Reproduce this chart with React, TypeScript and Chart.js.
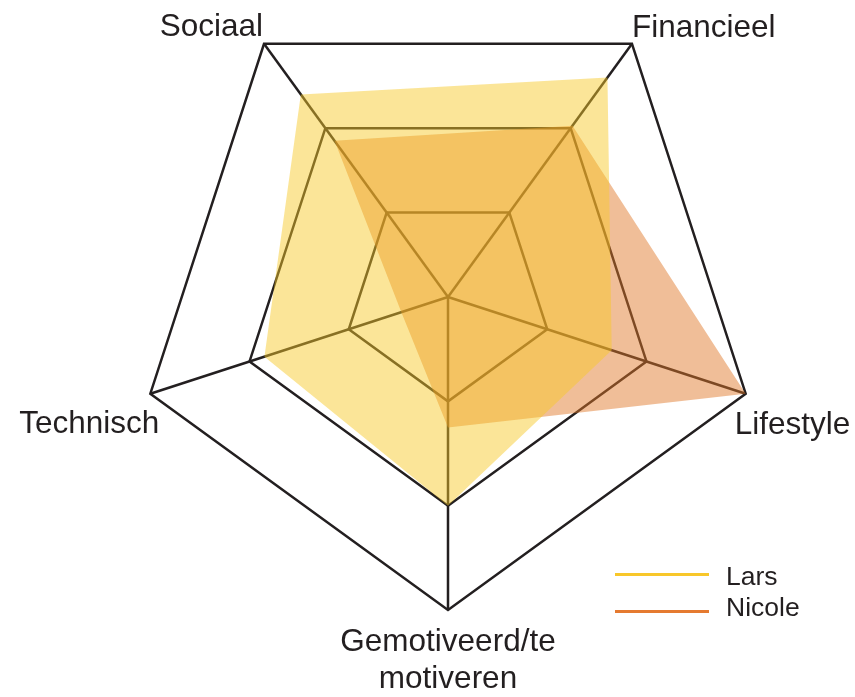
import React, { useEffect, useRef } from 'react';
import { Chart, registerables } from 'chart.js';

Chart.register(...registerables);

// ---- data ----
const categories: (string | string[])[] = [
  'Financieel',
  'Lifestyle',
  ['Gemotiveerd/te', 'motiveren'],
  'Technisch',
  'Sociaal',
];
const seriesNames = ['Lars', 'Nicole'];
const larsValues = [2.6, 1.65, 2.0, 1.85, 2.4];
const nicoleValues = [2.03, 3, 1.25, 0.47, 1.85];
const scaleMin = 0;
const scaleMax = 3;
const scaleStep = 1;

// ---- styles / layout ----
const FONT = "'Liberation Sans', Arial, Helvetica, sans-serif";
const TEXT_COLOR = '#231f20';
const GRID_COLOR = '#231f20';
const FILLS = ['rgba(247,200,40,0.48)', 'rgba(224,120,40,0.48)'];
const LEGEND_COLORS = ['#f8c72a', '#e57a30'];
const CENTER_X = 448;
const CENTER_Y = 297;
const RADIUS = 313;
// small label nudges [dx, dy] per category, px
const LABEL_NUDGE: [number, number][] = [
  [0, 3],
  [-11, 12.5],
  [0, 13],
  [9, 11.5],
  [-1, 2.5],
];

export default function App() {
  const canvasRef = useRef<HTMLCanvasElement | null>(null);

  useEffect(() => {
    document.body.style.margin = '0';
    const canvas = canvasRef.current;
    if (!canvas) return;
    const chart = new Chart(canvas, {
      type: 'radar',
      data: {
        labels: categories as any,
        datasets: [
          {
            label: seriesNames[0],
            data: larsValues,
            backgroundColor: FILLS[0],
            borderWidth: 0,
            pointRadius: 0,
            fill: true,
          },
          {
            label: seriesNames[1],
            data: nicoleValues,
            backgroundColor: FILLS[1],
            borderWidth: 0,
            pointRadius: 0,
            fill: true,
          },
        ],
      },
      options: {
        responsive: false,
        animation: false,
        devicePixelRatio: 1,
        layout: { padding: 0 },
        plugins: {
          legend: { display: false },
          tooltip: { enabled: false },
        },
        elements: { line: { tension: 0 } },
        scales: {
          r: {
            min: scaleMin,
            max: scaleMax,
            startAngle: 36,
            ticks: { display: false, stepSize: scaleStep },
            grid: { color: GRID_COLOR, lineWidth: 2.5, circular: false },
            angleLines: { color: GRID_COLOR, lineWidth: 2.5 },
            pointLabels: {
              padding: 0,
              color: TEXT_COLOR,
              font: { family: FONT, size: 31.5, lineHeight: 1.2 },
            },
            afterFit: (scale: any) => {
              const oldX = scale.xCenter;
              const oldY = scale.yCenter;
              const oldR = scale.drawingArea;
              scale.xCenter = CENTER_X;
              scale.yCenter = CENTER_Y;
              scale.drawingArea = RADIUS;
              const items = scale._pointLabelItems || [];
              items.forEach((item: any, i: number) => {
                const a = scale.getIndexAngle(i) - Math.PI / 2;
                const nudge = LABEL_NUDGE[i] || [0, 0];
                const dx = CENTER_X - oldX + Math.cos(a) * (RADIUS - oldR) + nudge[0];
                const dy = CENTER_Y - oldY + Math.sin(a) * (RADIUS - oldR) + nudge[1];
                item.x += dx;
                item.left += dx;
                item.right += dx;
                item.y += dy;
                item.top += dy;
                item.bottom += dy;
              });
            },
          } as any,
        },
      },
    });
    return () => chart.destroy();
  }, []);

  const legendRow = (i: number, lineY: number, textTop: number) => (
    <React.Fragment key={seriesNames[i]}>
      <div
        style={{
          position: 'absolute',
          left: 615,
          top: lineY - 1.5,
          width: 94,
          height: 3,
          background: LEGEND_COLORS[i],
        }}
      />
      <div
        style={{
          position: 'absolute',
          left: 726,
          top: textTop,
          fontFamily: FONT,
          fontSize: 26.5,
          lineHeight: '26.5px',
          color: TEXT_COLOR,
          whiteSpace: 'nowrap',
        }}
      >
        {seriesNames[i]}
      </div>
    </React.Fragment>
  );

  return (
    <div style={{ position: 'relative', width: 855, height: 697, background: '#fff' }}>
      <canvas ref={canvasRef} width={855} height={697} style={{ display: 'block' }} />
      {legendRow(0, 574, 562.6)}
      {legendRow(1, 611, 593.6)}
    </div>
  );
}
